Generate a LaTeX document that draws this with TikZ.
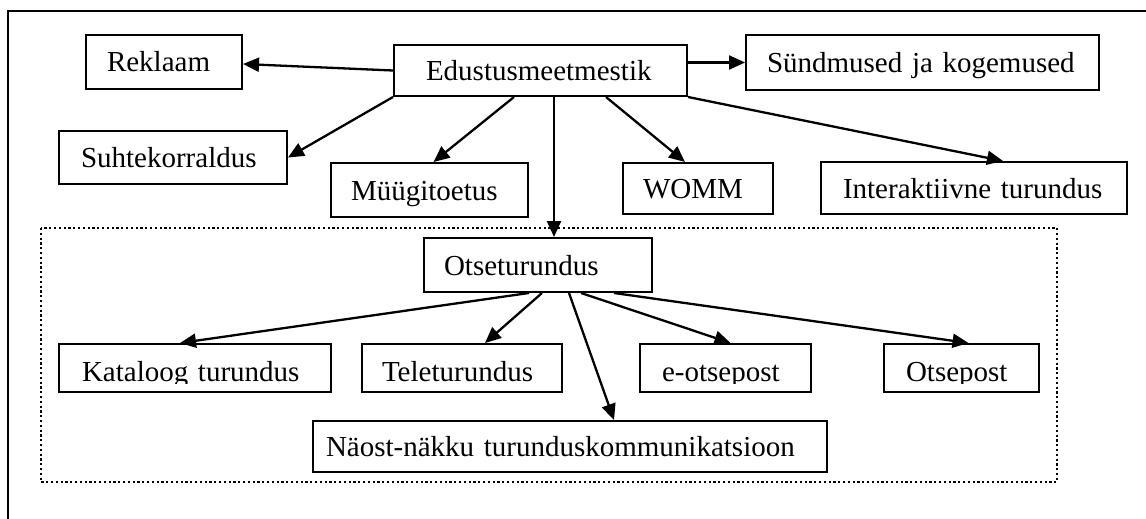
\documentclass[tikz,border=0pt]{standalone}
\usepackage{fontspec}
\setmainfont{Liberation Serif}
\usetikzlibrary{arrows.meta}
\begin{document}
\begin{tikzpicture}[x=1pt,y=-1pt,
  lbl/.style={font=\fontsize{29}{34}\selectfont},
  % box: text width, side padding, height
  box/.style n args={3}{draw, line width=2pt, lbl, anchor=north west,
    align=left, text width=#1, inner xsep=#2, inner ysep=0pt,
    minimum height=#3, text height=20pt, text depth=0pt},
  % text whose descenders are cut off by the box's inner margin
  cut/.style 2 args={path picture={
    \clip ([yshift=9pt]path picture bounding box.south west)
      rectangle (path picture bounding box.north east);
    \node[lbl, inner sep=0pt, anchor=base west]
      at ([xshift=#1, yshift=11pt]path picture bounding box.south west) {#2};}},
  arr/.style={line width=2.3pt, -{Triangle[length=16pt,width=14pt]}},
  frame/.style={line width=2.2pt},
  group/.style={line width=2.4pt, dash pattern=on 2.2pt off 2.6pt}
]
\useasboundingbox (0,0) rectangle (1146,519);

% outer frame (left and top sides)
\draw[frame] (8,520) -- (8,11) -- (1147,11);

% dotted group around direct marketing
\draw[group] (41,228) rectangle (1057,482);

% top level
\node[box={114pt}{21pt}{54pt}] (rek) at (85,34) {Reklaam};
\node[box={229pt}{32pt}{51pt}] (edus) at (393,44) {Edustusmeetmestik};
\node[box={311pt}{21pt}{55pt}] (sund) at (745,34) {Sündmused ja kogemused};
\node[box={184pt}{22pt}{53pt}] (suhte) at (58,130) {Suhtekorraldus};
\node[box={157pt}{20pt}{54pt}] (mug) at (330,162) {Müügitoetus};
\node[box={110pt}{20pt}{51pt}] (womm) at (622,162) {WOMM};
\node[box={262pt}{22pt}{52pt}] (inter) at (820,161) {Interaktiivne turundus};

% direct marketing and its channels
\node[box={188pt}{20pt}{54pt}] (otse) at (423,237) {Otseturundus};
\node[box={228pt}{22pt}{48pt}, cut={22pt}{Kataloog turundus}] (kat) at (58,343) {};
\node[box={160pt}{20pt}{48pt}, text height=26pt] (tele) at (361,343) {Teleturundus};
\node[box={129pt}{21pt}{48pt}, cut={21pt}{e-otsepost}] (epost) at (639,343) {};
\node[box={113pt}{21pt}{48pt}, cut={21pt}{Otsepost}] (post) at (883,343) {};
\node[box={488pt}{13pt}{51pt}] (naost) at (312,420) {Näost-näkku turunduskommunikatsioon};

% connectors from the promotion mix
\draw[arr] (edus.west) -- ([yshift=-2pt]rek.east);
\draw[arr] (sund.west -| edus.east) -- (sund.west);
\draw[arr] (edus.south west) -- (suhte.east);
\draw[arr] ([xshift=121pt]edus.south west) -- ([xshift=4pt]mug.north);
\draw[arr] ([xshift=16pt]otse.north |- edus.south) -- ([xshift=16pt]otse.north);
\draw[arr] ([xshift=213pt]edus.south west) -- ([xshift=-13pt]womm.north);
\draw[arr] (edus.south east) -- ([xshift=29pt]inter.north);

% connectors from direct marketing
\draw[arr] ([xshift=-9pt]otse.south) -- ([xshift=-15pt]kat.north);
\draw[arr] ([xshift=4pt]otse.south) -- ([xshift=23pt]tele.north);
\draw[arr] ([xshift=31pt]otse.south) -- ([xshift=44pt]naost.north);
\draw[arr] ([xshift=43pt]otse.south) -- ([xshift=5pt]epost.north);
\draw[arr] ([xshift=76pt]otse.south) -- ([xshift=7pt]post.north);
\end{tikzpicture}
\end{document}
